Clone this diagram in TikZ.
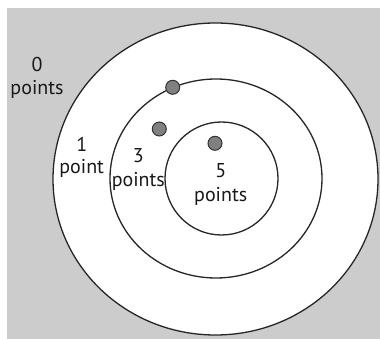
\documentclass[tikz,border=0pt]{standalone}
\usepackage{fontspec}
\setmainfont{PT Sans}
\definecolor{bggray}{RGB}{204,204,204}
\definecolor{dotgray}{RGB}{128,128,128}
\definecolor{dotline}{RGB}{50,50,50}
\begin{document}
\begin{tikzpicture}[x=1pt,y=-1pt,
  ring/.style={draw=black!85,line width=1.3pt},
  dot/.style={circle,draw=dotline,fill=dotgray,line width=1pt,minimum size=14pt,inner sep=0pt},
  lab/.style={font=\fontsize{20}{23}\selectfont,anchor=base,inner sep=0pt,text=black!90}]
\useasboundingbox (0,0) rectangle (380,339);
\fill[bggray] (7,8) rectangle (380,339);
\draw[ring,fill=white] (215.5,179) ellipse [x radius=162.5,y radius=156];
\draw[ring] (216,178.5) ellipse [x radius=106,y radius=99.5];
\draw[ring] (221.5,178.5) circle [radius=56.5];
\node[dot] (d1) at (172.7,87.3) {};
\node[dot] (d2) at (159.3,129) {};
\node[dot] (d3) at (215,143.3) {};
\node[lab] (n0) at (37,71.7) {0};
\node[lab] (p0) at (37,94.3) {points};
\node[lab] (n1) at (81.7,151.5) {1};
\node[lab] (p1) at (81.7,174) {point};
\node[lab] (n3) at (138.3,163) {3};
\node[lab] (p3) at (138.3,186) {points};
\node[lab] (n5) at (220.7,178) {5};
\node[lab] (p5) at (220.7,201) {points};
\end{tikzpicture}
\end{document}
